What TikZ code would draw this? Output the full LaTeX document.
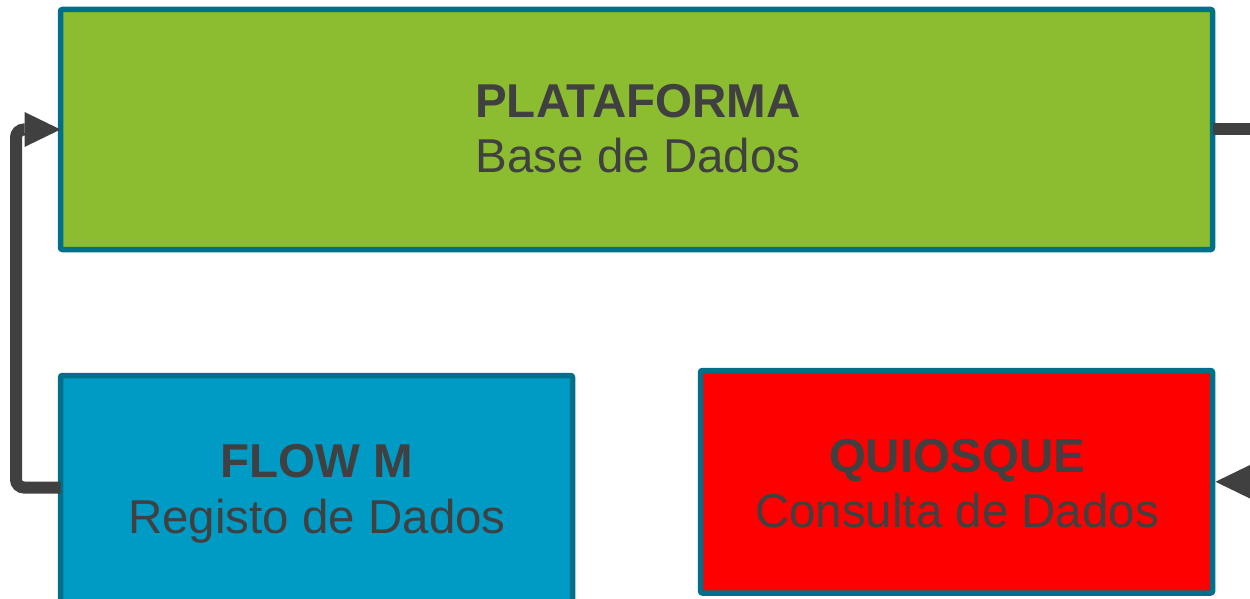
\documentclass[tikz,border=0pt]{standalone}
\usepackage{fontspec}
\setmainfont{Liberation Sans}
\usetikzlibrary{arrows.meta,calc}
\definecolor{plgreen}{HTML}{8CBD31}
\definecolor{flblue}{HTML}{009BC5}
\definecolor{qured}{HTML}{FF0000}
\definecolor{bordc}{HTML}{00708A}
\definecolor{darkc}{HTML}{404040}
\tikzset{
  box/.style={draw=bordc, line width=5.5pt, rounded corners=2pt, rectangle, inner sep=0pt, outer sep=0pt, anchor=north west},
  title/.style={anchor=base, text=darkc, font=\fontsize{47.5}{56}\selectfont\bfseries, inner sep=0pt},
  sub/.style={anchor=base, text=darkc, font=\fontsize{47.5}{56}\selectfont, inner sep=0pt},
  conn/.style={draw=darkc, line width=12pt},
  tip/.style={-{Triangle[length=36pt,width=35pt,line width=0pt]}}
}
\begin{document}
\begin{tikzpicture}[x=1pt,y=-1pt]
\useasboundingbox (0,0) rectangle (1250,599);
\node[box, fill=plgreen, minimum width=1152pt, minimum height=240pt] (plat) at (60.5,9.5) {};
\node[box, fill=flblue, minimum width=512pt, minimum height=260pt] (flow) at (60.5,375.5) {};
\node[box, fill=qured, minimum width=512pt, minimum height=222.5pt] (quio) at (700.5,370.5) {};
\node[title] (platT) at (638,118) {PLATAFORMA};
\node[sub] (platS) at (638,172) {Base de Dados};
\node[title] (flowT) at (317,477) {FLOW M};
\node[sub] (flowS) at (317,533) {Registo de Dados};
\node[title] (quioT) at (957,472) {QUIOSQUE};
\node[sub] (quioS) at (957,527) {Consulta de Dados};
\draw[conn, tip, rounded corners=8pt] ([yshift=-112pt]flow.north west) -| ($(plat.west)+(-44.5,0)$) -- (plat.west);
\coordinate (rout) at ($(plat.east)+(45,0)$);
\draw[conn] (plat.east) -- (rout);
\coordinate (rin) at ($(quio.east)+(60,0)$);
\draw[conn, tip] (rin) -- ([xshift=3pt]quio.east);
\end{tikzpicture}
\end{document}
